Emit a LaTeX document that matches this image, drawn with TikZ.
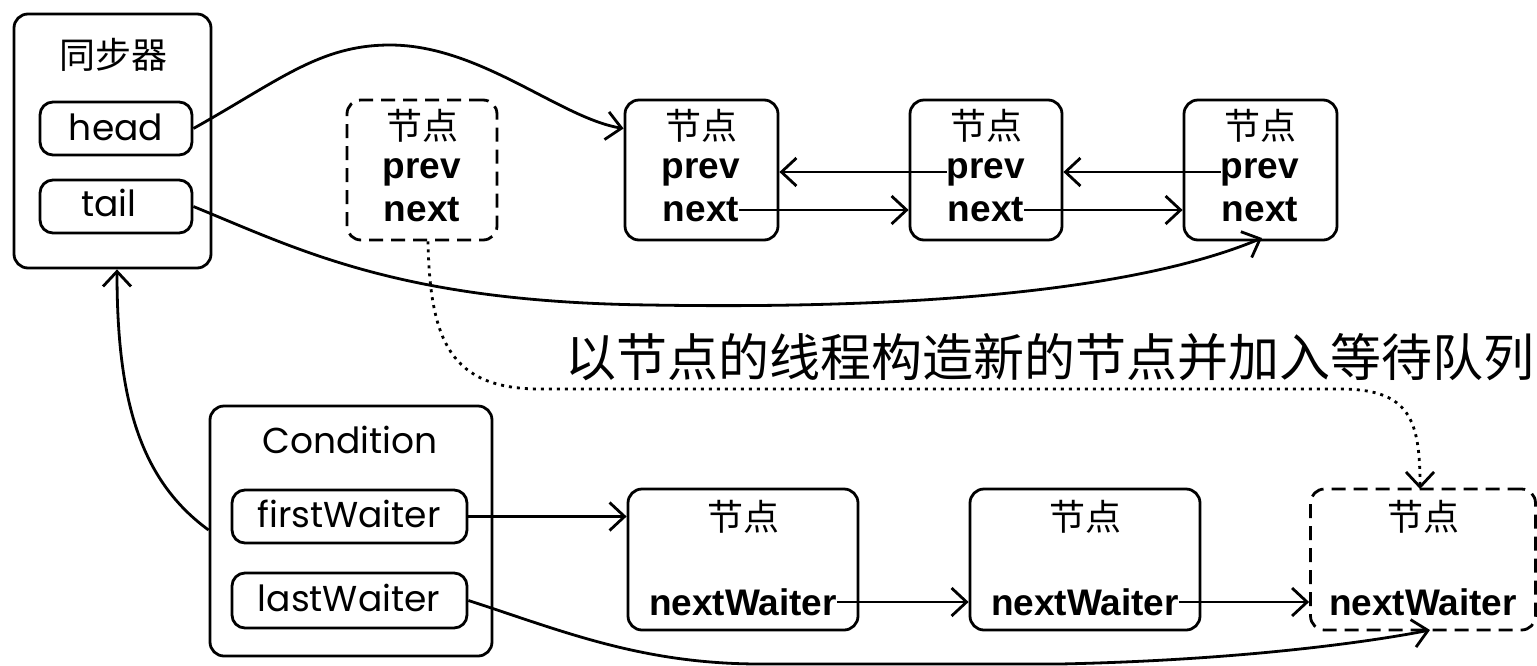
\documentclass[tikz,border=0pt]{standalone}
\usepackage{fontspec}
\setmainfont{Poppins}
\newfontfamily\cjk{Noto Sans CJK SC}
\newfontfamily\bsans{Liberation Sans}
\usetikzlibrary{arrows.meta}
\tikzset{
  box/.style={draw, line width=2.8pt, rounded corners=14pt, inner sep=0pt},
  dbox/.style={box, dash pattern=on 14pt off 8pt},
  fld/.style={draw, line width=2.8pt, rounded corners=13pt, inner sep=0pt},
  cjkt/.style={font=\cjk\fontsize{36}{40}\selectfont, inner sep=0pt},
  bt/.style={font=\bsans\bfseries\fontsize{37}{40}\selectfont, inner sep=0pt},
  lt/.style={font=\fontsize{36}{40}\selectfont, inner sep=0pt},
  conn/.style={line width=2.8pt, -{Straight Barb[length=15pt,width=28pt,line width=2.8pt]}},
  dotconn/.style={conn, dash pattern=on 3pt off 5pt},
}
\begin{document}
\begin{tikzpicture}[x=1pt,y=-1pt]
\useasboundingbox (0,0) rectangle (1537,665);
% synchronizer
\node[box, minimum width=197pt, minimum height=254pt] (sync) at (112.5,141) {};
\node[cjkt] (synct) at (113,55) {同步器};
\node[fld, minimum width=152pt, minimum height=53pt] (head) at (116,128.5) {};
\node[lt] (headt) at (116,127) {head};
\node[fld, minimum width=152pt, minimum height=53pt] (tail) at (116,206.5) {};
\node[lt] (tailt) at (109,203) {tail};
% top nodes
\node[dbox, minimum width=150pt, minimum height=140pt] (d0) at (422,170) {};
\node[cjkt] (d0t) at (422,126) {节点};
\node[bt] (d0p) at (422,172) {prev};
\node[bt] (d0n) at (422,210) {next};
\node[box, minimum width=153pt, minimum height=140pt] (n1) at (701.5,170) {};
\node[cjkt] (n1t) at (701,126) {节点};
\node[bt] (n1p) at (701,172) {prev};
\node[bt] (n1n) at (701,210) {next};
\node[box, minimum width=152pt, minimum height=140pt] (n2) at (986,170) {};
\node[cjkt] (n2t) at (986,126) {节点};
\node[bt] (n2p) at (986,172) {prev};
\node[bt] (n2n) at (986,210) {next};
\node[box, minimum width=153pt, minimum height=140pt] (n3) at (1260.5,170) {};
\node[cjkt] (n3t) at (1260,126) {节点};
\node[bt] (n3p) at (1260,172) {prev};
\node[bt] (n3n) at (1260,210) {next};
% label
\node[font=\cjk\fontsize{51}{54}\selectfont, inner sep=0pt] (lab) at (1050,357) {以节点的线程构造新的节点并加入等待队列};
% condition
\node[box, minimum width=282pt, minimum height=250pt] (cond) at (351,531) {};
\node[lt] (condt) at (350,440) {Condition};
\node[fld, minimum width=235pt, minimum height=53pt] (fw) at (349.5,516.5) {};
\node[lt] (fwt) at (349,514) {firstWaiter};
\node[fld, minimum width=235pt, minimum height=55pt] (lw) at (349.5,600.5) {};
\node[lt] (lwt) at (349,598) {lastWaiter};
% bottom nodes
\node[box, minimum width=230pt, minimum height=141pt] (b1) at (743,559.5) {};
\node[cjkt] (b1t) at (743,517) {节点};
\node[bt] (b1n) at (743,602) {nextWaiter};
\node[box, minimum width=230pt, minimum height=141pt] (b2) at (1085,559.5) {};
\node[cjkt] (b2t) at (1085,517) {节点};
\node[bt] (b2n) at (1085,602) {nextWaiter};
\node[dbox, minimum width=225pt, minimum height=141pt] (b3) at (1423,559.5) {};
\node[cjkt] (b3t) at (1423,517) {节点};
\node[bt] (b3n) at (1423,602) {nextWaiter};
% connectors top
\draw[conn] (n2p.west) -- (n1.east |- n2p.west);
\draw[conn] (n3p.west) -- (n2.east |- n3p.west);
\draw[conn] (n1n.east) -- (n2.west |- n1n.east);
\draw[conn] (n2n.east) -- (n3.west |- n2n.east);
\coordinate (hp) at (390,45);
\draw[conn] (head.east) .. controls (280,80) and (320,45) .. (hp) .. controls (480,45) and (560,118) .. (n1.west |- head.east);
\coordinate (tb) at (650,305);
\coordinate (n3b) at (1262,238);
\draw[conn] (tail.east) .. controls (300,250) and (400,302) .. (tb) .. controls (950,310) and (1150,285) .. (n3b);
% dotted
\coordinate (dl) at (540,389);
\coordinate (dr) at (1340,389);
\coordinate (b3top) at (1420,489);
\draw[dotconn] (d0.south -| 428,0) .. controls (430,340) and (450,389) .. (dl) -- (dr) .. controls (1410,389) and (1420,420) .. (b3top);
% bottom connectors
\draw[conn] (fw.east) -- (b1.west |- fw.east);
\draw[conn] (b1n.east) -- (b2.west |- b1n.east);
\draw[conn] (b2n.east) -- (b3.west |- b2n.east);
\coordinate (lb1) at (760,664);
\coordinate (lb2) at (1060,664);
\coordinate (b3bot) at (1430,630);
\draw[conn] (lw.east) .. controls (560,630) and (640,664) .. (lb1) -- (lb2) .. controls (1250,660) and (1380,640) .. (b3bot);
\coordinate (syb) at (117,268);
\draw[conn] (cond.west |- 0,530) .. controls (140,480) and (117,400) .. (sync.south -| syb);
\end{tikzpicture}
\end{document}
